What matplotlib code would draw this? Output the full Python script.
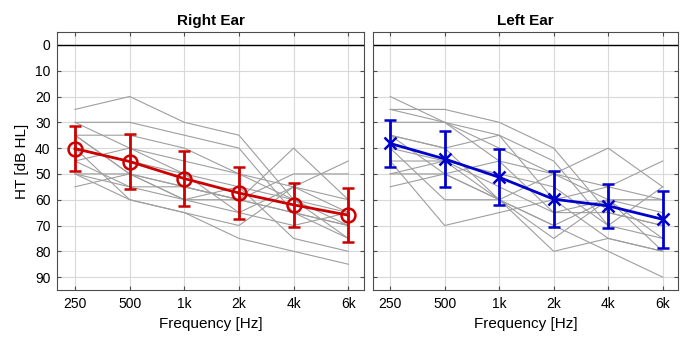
import numpy as np
import matplotlib.pyplot as plt

plt.rcParams['font.family'] = ['Liberation Sans', 'DejaVu Sans']

freqs = ['250', '500', '1k', '2k', '4k', '6k']

# individual thresholds (dB HL), one row per subject
right_ind = [
    [25, 20, 30, 35, 60, 70],
    [30, 30, 35, 40, 65, 75],
    [30, 40, 45, 50, 55, 60],
    [35, 35, 40, 50, 60, 65],
    [35, 50, 55, 60, 40, 60],
    [40, 45, 50, 55, 60, 75],
    [45, 40, 50, 65, 70, 65],
    [50, 55, 55, 60, 65, 70],
    [50, 50, 60, 65, 55, 45],
    [55, 50, 55, 60, 50, 50],
    [50, 60, 65, 75, 80, 85],
    [40, 60, 65, 70, 55, 65],
    [35, 50, 60, 55, 75, 80],
    [45, 55, 60, 60, 65, 70],
]
left_ind = [
    [20, 30, 40, 50, 60, 75],
    [25, 25, 30, 40, 65, 70],
    [25, 30, 35, 45, 70, 75],
    [30, 30, 45, 50, 40, 55],
    [35, 40, 35, 60, 55, 60],
    [35, 50, 45, 65, 60, 65],
    [40, 45, 50, 55, 70, 55],
    [40, 60, 60, 70, 60, 80],
    [45, 45, 55, 65, 65, 70],
    [45, 70, 65, 60, 75, 80],
    [50, 50, 60, 80, 75, 80],
    [50, 45, 60, 70, 80, 90],
    [55, 50, 60, 50, 55, 45],
    [35, 40, 60, 75, 60, 60],
]

# group mean and standard deviation
right_mean = [40.2, 45.2, 51.8, 57.4, 62.0, 66.0]
right_sd = [8.8, 10.5, 10.5, 10.2, 8.5, 10.5]
left_mean = [38.2, 44.2, 51.3, 59.8, 62.4, 67.6]
left_sd = [9.0, 11.0, 10.8, 10.8, 8.6, 11.0]

fig = plt.figure(figsize=(6.86, 3.39), dpi=100)
ax1 = fig.add_axes([0.0838, 0.1445, 0.4462, 0.7611])
ax2 = fig.add_axes([0.5433, 0.1445, 0.4450, 0.7611])

x = np.arange(1, len(freqs) + 1)

panels = [
    (ax1, 'Right Ear', right_ind, right_mean, right_sd, (0.8, 0, 0), 'o', 10),
    (ax2, 'Left Ear', left_ind, left_mean, left_sd, (0, 0, 0.8), 'x', 8),
]

for ax, title, ind, m, sd, col, mk, ms in panels:
    ax.axhline(0, color='k', lw=1, zorder=1)
    for row in ind:
        ax.plot(x, row, color=(0.62, 0.62, 0.62), lw=0.8, zorder=2)
    ax.errorbar(x, m, yerr=sd, color=col, lw=2, marker=mk, ms=ms,
                mfc='none', mec=col, mew=1.8, capsize=4, capthick=2,
                elinewidth=2, zorder=3)
    ax.set_xlim(0.68, 6.28)
    ax.set_ylim(95, -5)
    ax.set_yticks(np.arange(0, 91, 10))
    ax.set_xticks(x)
    ax.set_xticklabels(freqs)
    ax.grid(True, color=(0.85, 0.85, 0.85), lw=0.8)
    ax.set_axisbelow(True)
    ax.tick_params(direction='in', top=True, right=True, labelsize=10,
                   length=3, color=(0.3, 0.3, 0.3), pad=5)
    for s in ax.spines.values():
        s.set_color((0.3, 0.3, 0.3))
    ax.set_xlabel('Frequency [Hz]', fontsize=11)
    ax.set_title(title, fontsize=11, fontweight='bold', pad=5)

ax1.set_ylabel('HT [dB HL]', fontsize=11)
ax2.tick_params(labelleft=False)

fig.savefig('out.png', dpi=100)
